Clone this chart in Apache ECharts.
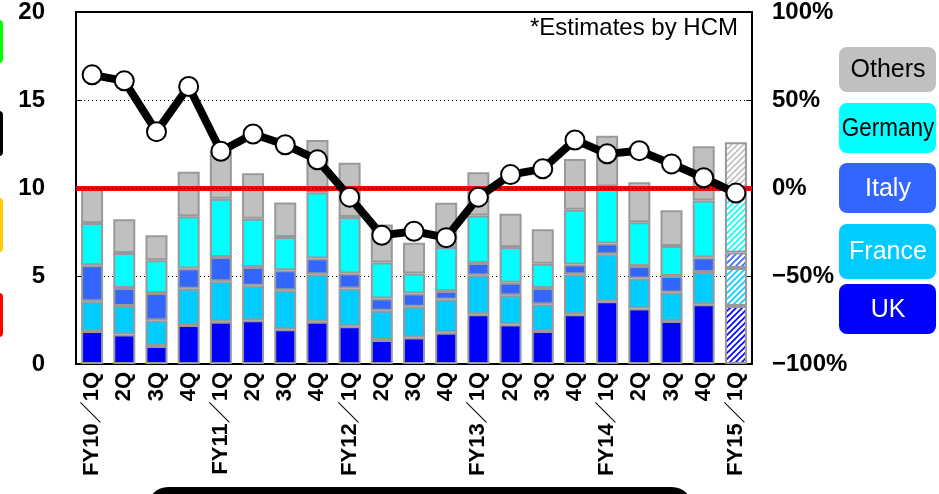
<!DOCTYPE html>
<html>
<head>
<meta charset="utf-8">
<script src="https://cdn.jsdelivr.net/npm/echarts@6/dist/echarts.min.js"></script>
<style>
    html, body { margin: 0; padding: 0; background: #fff; }
    #main { width: 939px; height: 494px; }
</style>
</head>
<body>
<div id="main"></div>
<script>
// quarterly sales by region (left axis) and YoY growth (right axis)
var categories = ['FY10／1Q', '2Q', '3Q', '4Q', 'FY11／1Q', '2Q', '3Q', '4Q', 'FY12／1Q', '2Q', '3Q', '4Q',
    'FY13／1Q', '2Q', '3Q', '4Q', 'FY14／1Q', '2Q', '3Q', '4Q', 'FY15／1Q'];
var ukData = [1.87, 1.68, 1.02, 2.21, 2.40, 2.49, 1.98, 2.40, 2.15, 1.36, 1.51, 1.77, 2.83, 2.25, 1.87, 2.83, 3.57, 3.16, 2.44, 3.40, 3.29];
var franceData = [1.70, 1.61, 1.47, 2.06, 2.30, 1.95, 2.21, 2.70, 2.14, 1.66, 1.74, 1.89, 2.21, 1.66, 1.53, 2.27, 2.66, 1.70, 1.62, 1.83, 2.17];
var italyData = [2.04, 1.03, 1.55, 1.15, 1.38, 1.07, 1.14, 0.89, 0.85, 0.70, 0.75, 0.49, 0.70, 0.70, 0.92, 0.55, 0.61, 0.71, 0.94, 0.82, 0.87];
var germanyData = [2.40, 1.99, 1.85, 2.97, 3.31, 2.74, 1.88, 3.77, 3.21, 2.04, 1.14, 2.50, 2.70, 2.04, 1.38, 3.11, 3.24, 2.49, 1.70, 3.24, 3.15];
var othersData = [2.00, 1.91, 1.42, 2.54, 2.70, 2.59, 1.97, 2.97, 3.08, 2.17, 1.75, 2.51, 2.46, 1.89, 1.95, 2.89, 2.89, 2.27, 2.03, 3.08, 3.12];
var growthData = [64.3, 60.9, 32.0, 57.7, 20.9, 30.7, 24.6, 16.0, -5.2, -26.9, -24.6, -28.2, -5.2, 7.6, 10.9, 27.3, 19.4, 21.2, 13.7, 5.8, -2.9];
var leftTicks = ['0', '5', '10', '15', '20'];
var rightTicks = ['−100%', '−50%', '0%', '50%', '100%'];

var fontBase = '"Liberation Sans", Arial, "Noto Sans CJK JP", sans-serif';

initChart();

function initChart() {
    var chartDom = document.getElementById('main');
    var myChart = echarts.init(chartDom);

    var regions = [
        { name: 'UK', data: ukData, color: '#0000FF' },
        { name: 'France', data: franceData, color: '#00CCFF' },
        { name: 'Italy', data: italyData, color: '#3366FF' },
        { name: 'Germany', data: germanyData, color: '#00FFFF' },
        { name: 'Others', data: othersData, color: '#C0C0C0' }
    ];

    var barSeries = regions.map(function (r) {
        return {
            name: r.name,
            type: 'bar',
            stack: 'sales',
            barWidth: 22,
            z: 3,
            itemStyle: { color: r.color, borderColor: '#999999', borderWidth: 2 },
            data: r.data.map(function (v, i) {
                // last quarter is an estimate -> hatched
                if (i === r.data.length - 1) {
                    return { value: v, itemStyle: { color: { image: makeHatch(r.color), repeat: 'repeat' } } };
                }
                return v;
            })
        };
    });

    var option = {
        animation: false,
        backgroundColor: '#ffffff',
        grid: {
            left: 76, right: 187, top: 11, bottom: 130,
            show: true, borderColor: '#000', borderWidth: 2, backgroundColor: 'transparent'
        },
        xAxis: {
            type: 'category',
            data: categories,
            boundaryGap: true,
            axisLine: { lineStyle: { color: '#000', width: 2 } },
            axisTick: { inside: true, length: 6, lineStyle: { color: '#000', width: 1 } },
            axisLabel: {
                interval: 0, rotate: 90, margin: 8,
                color: '#000', fontSize: 22, fontWeight: 'bold', fontFamily: fontBase
            }
        },
        yAxis: [
            {
                type: 'value', min: 0, max: 20, interval: 5,
                axisLine: { show: true, lineStyle: { color: '#000', width: 2 } },
                axisTick: { show: true, inside: true, length: 6, lineStyle: { color: '#000' } },
                splitLine: { show: true, lineStyle: { color: '#000', type: [1, 3], width: 1 } },
                axisLabel: {
                    margin: 31, color: '#000', fontSize: 24, fontWeight: 'bold', fontFamily: fontBase,
                    formatter: function (v) { return leftTicks[v / 5]; }
                }
            },
            {
                type: 'value', min: -100, max: 100, interval: 50,
                axisLine: { show: true, lineStyle: { color: '#000', width: 2 } },
                axisTick: { show: true, inside: true, length: 6, lineStyle: { color: '#000' } },
                splitLine: { show: false },
                axisLabel: {
                    margin: 20, color: '#000', fontSize: 24, fontWeight: 'bold', fontFamily: fontBase,
                    formatter: function (v) { return rightTicks[(v + 100) / 50]; }
                }
            }
        ],
        series: [
            {
                name: 'base',
                type: 'line',
                data: [],
                z: 1,
                markLine: {
                    silent: true,
                    symbol: 'none',
                    label: { show: false },
                    data: [
                        { yAxis: 10, lineStyle: { color: '#FF0000', width: 5, type: 'solid' } },
                        { yAxis: 10, lineStyle: { color: '#000', width: 1, type: [1, 3] } }
                    ]
                }
            }
        ].concat(barSeries).concat([
            {
                name: 'YoY',
                type: 'line',
                yAxisIndex: 1,
                z: 5,
                data: growthData,
                lineStyle: { color: '#000', width: 8 },
                symbol: 'circle',
                symbolSize: 19,
                itemStyle: { color: '#fff', borderColor: '#000', borderWidth: 2 }
            }
        ]),
        graphic: buildGraphics()
    };

    option && myChart.setOption(option);
}

function makeHatch(color) {
    var c = document.createElement('canvas');
    c.width = 6;
    c.height = 6;
    var ctx = c.getContext('2d');
    ctx.fillStyle = '#fff';
    ctx.fillRect(0, 0, 6, 6);
    ctx.strokeStyle = color;
    ctx.lineWidth = 1.6;
    ctx.beginPath();
    ctx.moveTo(0, 6); ctx.lineTo(6, 0);
    ctx.moveTo(-1, 1); ctx.lineTo(1, -1);
    ctx.moveTo(5, 7); ctx.lineTo(7, 5);
    ctx.stroke();
    return c;
}

function buildGraphics() {
    var g = [];
    // legend boxes at right
    var legend = [
        { text: 'Others', y: 47, h: 45, fill: '#C0C0C0', txt: '#000', sx: 1 },
        { text: 'Germany', y: 103, h: 50, fill: '#00FFFF', txt: '#000', sx: 0.9 },
        { text: 'Italy', y: 163, h: 50, fill: '#3366FF', txt: '#fff', sx: 1 },
        { text: 'France', y: 224, h: 55, fill: '#00CCFF', txt: '#fff', sx: 1 },
        { text: 'UK', y: 284, h: 50, fill: '#0000FF', txt: '#fff', sx: 1 }
    ];
    legend.forEach(function (l) {
        g.push({
            type: 'rect',
            shape: { x: 839, y: l.y, width: 97, height: l.h, r: 8 },
            style: { fill: l.fill }
        });
        g.push({
            type: 'text',
            x: 888, y: l.y + l.h / 2 + 1,
            scaleX: l.sx,
            style: {
                text: l.text, fill: l.txt, align: 'center', verticalAlign: 'middle',
                font: '25px ' + fontBase
            }
        });
    });
    // partially visible boxes at left edge
    [['#00FF00', 20, 43], ['#000000', 111, 45], ['#FFCC00', 198, 54], ['#FF0000', 293, 44]].forEach(function (b) {
        g.push({
            type: 'rect',
            shape: { x: -12, y: b[1], width: 15, height: b[2], r: 4 },
            style: { fill: b[0] }
        });
    });
    // bottom black shape
    g.push({
        type: 'rect',
        shape: { x: 148, y: 487, width: 544, height: 40, r: 22 },
        style: { fill: '#000' }
    });
    // note
    g.push({
        type: 'text',
        x: 738, y: 28,
        style: { text: '*Estimates by HCM', fill: '#000', align: 'right', verticalAlign: 'middle', font: '24px ' + fontBase }
    });
    return g;
}
</script>
</body>
</html>
